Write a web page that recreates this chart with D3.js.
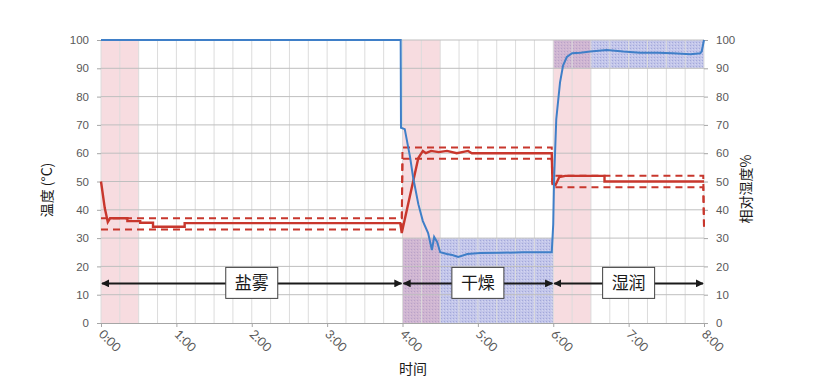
<!DOCTYPE html>
<html lang="zh">
<head>
<meta charset="UTF-8">
<title>温度 / 相对湿度</title>
<style>
  body { margin: 0; background: #fff; }
  svg { display: block; font-family: Lato, "Noto Sans", sans-serif; }
  .grid-h line { stroke: #bfbfbf; }
  .grid-v line { stroke: #dcdcdc; }
  .tick-label { fill: #595959; font-size: 11.5px; }
  .cjk { font-family: "Noto Sans CJK SC", sans-serif; fill: #1a1a1a; }
</style>
<script src="https://d3js.org/d3.v7.min.js"></script>
</head>
<body>
<div class="chart"></div>
<script>
// x tick labels (hours)
const tickHours = [0, 1, 2, 3, 4, 5, 6, 7, 8]
const tickLabels = ['0:00', '1:00', '2:00', '3:00', '4:00', '5:00', '6:00', '7:00', '8:00']
const yTicks = [0, 10, 20, 30, 40, 50, 60, 70, 80, 90, 100]

// phases
const phaseNames = ['盐雾', '干燥', '湿润']
const phaseStart = [0, 4, 6]
const phaseEnd = [4, 6, 8]

// pink transition bands (hours)
const pinkStart = [0, 4, 6]
const pinkEnd = [0.5, 4.5, 6.5]

// blue target RH zones
const blueStart = [4, 6]
const blueEnd = [6, 8]
const blueLow = [0, 90]
const blueHigh = [30, 100]

// relative humidity (%)
const rhTime = [0, 3.976, 3.98, 4.03, 4.10, 4.14, 4.21, 4.27, 4.34, 4.39, 4.42, 4.46, 4.50, 4.59, 4.66, 4.74, 4.86, 5.03, 5.3, 5.6, 5.98,
  6.0, 6.01, 6.04, 6.09, 6.13, 6.18, 6.25, 6.36, 6.49, 6.71, 6.93, 7.15, 7.38, 7.59, 7.82, 7.95, 7.97, 8.0]
const rhValue = [100, 100, 69, 68.5, 58.7, 51.6, 42, 36, 31.8, 25.8, 30.4, 28.6, 25, 24.4, 24, 23.3, 24.4, 24.7, 24.8, 25, 25,
  35, 50, 72, 85, 91, 94, 95.3, 95.5, 95.9, 96.5, 95.9, 95.5, 95.5, 95.3, 95, 95.3, 96, 100]

// temperature (°C)
const tempTime = [0, 0.05, 0.09, 0.12, 0.35, 0.35, 0.52, 0.52, 0.69, 0.69, 1.11, 1.11, 3.97, 3.99, 4.21, 4.27, 4.31, 4.38, 4.48, 4.59, 4.72, 4.87, 4.92, 5.98,
  5.99, 6.03, 6.08, 6.16, 6.68, 6.68, 8.0]
const tempValue = [50, 40.6, 35.7, 37, 37, 36, 36, 35.4, 35.4, 34, 34, 35.3, 35.3, 31.8, 58.3, 60.8, 60, 60.8, 60.4, 60.8, 60, 60.8, 60, 60,
  49.5, 48.8, 51.6, 52, 52, 50, 50]

// tolerance limits (°C)
const tolTime = [0, 3.99, 4.0, 5.98, 5.99, 7.99, 8.0]
const tolUpper = [37, 37, 62, 62, 52, 52, 34]
const tolLower = [33, 33, 58, 58, 48, 48, 34]

const W = 814, H = 390
const svg = d3.select('.chart').append('svg').attr('width', W).attr('height', H)

const x = d3.scaleLinear().domain([0, 8]).range([101, 704])
const y = d3.scaleLinear().domain([0, 100]).range([323, 40])

const defs = svg.append('defs')
const pat = defs.append('pattern').attr('id', 'hatch').attr('patternUnits', 'userSpaceOnUse')
  .attr('width', 3).attr('height', 3)
pat.append('rect').attr('width', 3).attr('height', 3).attr('fill', '#c3c6ea')
pat.append('rect').attr('width', 1).attr('height', 1).attr('fill', '#a3a8da')
pat.append('rect').attr('x', 2).attr('y', 1).attr('width', 1).attr('height', 1).attr('fill', '#d4d6f0')

const mk = defs.append('marker').attr('id', 'arr').attr('viewBox', '0 0 10 10')
  .attr('refX', 9).attr('refY', 5).attr('markerWidth', 4).attr('markerHeight', 4)
  .attr('orient', 'auto-start-reverse')
mk.append('path').attr('d', 'M0,0 L10,5 L0,10 z').attr('fill', '#1a1a1a')

// blue zones
svg.append('g').selectAll('rect').data(blueStart).join('rect')
  .attr('x', (d, i) => x(d)).attr('width', (d, i) => x(blueEnd[i]) - x(d))
  .attr('y', (d, i) => y(blueHigh[i])).attr('height', (d, i) => y(blueLow[i]) - y(blueHigh[i]))
  .attr('fill', 'url(#hatch)')

// pink bands
svg.append('g').selectAll('rect').data(pinkStart).join('rect')
  .attr('x', d => x(d)).attr('width', (d, i) => x(pinkEnd[i]) - x(d))
  .attr('y', y(100)).attr('height', y(0) - y(100))
  .attr('fill', 'rgb(230,150,160)').attr('fill-opacity', 0.33)

// grid
const vGrid = d3.range(0, 8.01, 0.25)
svg.append('g').attr('class', 'grid-v').selectAll('line').data(vGrid).join('line')
  .attr('x1', d => x(d)).attr('x2', d => x(d)).attr('y1', y(100)).attr('y2', y(0))
svg.append('g').attr('class', 'grid-h').selectAll('line').data(yTicks.slice(1)).join('line')
  .attr('x1', x(0)).attr('x2', x(8)).attr('y1', d => y(d)).attr('y2', d => y(d))

// x axis
const xAxis = svg.append('g').attr('transform', `translate(0,${y(0)})`)
  .call(d3.axisBottom(x).tickValues(tickHours).tickFormat('').tickSize(4))
xAxis.select('.domain').attr('stroke', '#a6a6a6')
xAxis.selectAll('.tick line').attr('stroke', '#a6a6a6')
svg.append('g').selectAll('text').data(tickHours).join('text')
  .attr('class', 'tick-label').style('font-size', '12.5px')
  .attr('transform', d => `translate(${x(d) - 3},${y(0) + 12}) rotate(45)`)
  .text((d, i) => tickLabels[i])

// y axes
const yl = svg.append('g').attr('transform', `translate(${x(0)},0)`)
  .call(d3.axisLeft(y).tickValues(yTicks).tickSize(4).tickPadding(8))
const yr = svg.append('g').attr('transform', `translate(${x(8)},0)`)
  .call(d3.axisRight(y).tickValues(yTicks).tickSize(4).tickPadding(8))
;[yl, yr].forEach(a => {
  a.select('.domain').remove()
  a.selectAll('.tick line').attr('stroke', '#a6a6a6')
  a.selectAll('.tick text').attr('class', 'tick-label').attr('fill', '#595959').style('font-size', '11.5px')
})

// tolerance dashed lines
const tolLine = vals => d3.line().x((d, i) => x(tolTime[i])).y((d, i) => y(vals[i]))(tolTime)
;[tolUpper, tolLower].forEach(v => {
  svg.append('path').attr('d', tolLine(v)).attr('fill', 'none')
    .attr('stroke', '#c8372d').attr('stroke-width', 2).attr('stroke-dasharray', '7,5')
})

// temperature
svg.append('path')
  .attr('d', d3.line().x((d, i) => x(tempTime[i])).y((d, i) => y(tempValue[i]))(tempTime))
  .attr('fill', 'none').attr('stroke', '#c8372d').attr('stroke-width', 2.4)

// RH
svg.append('path')
  .attr('d', d3.line().x((d, i) => x(rhTime[i])).y((d, i) => y(rhValue[i]))(rhTime))
  .attr('fill', 'none').attr('stroke', '#3f7fc8').attr('stroke-width', 2)

// phase arrows + boxes
const ay = y(14)
phaseNames.forEach((name, i) => {
  svg.append('line').attr('x1', x(phaseStart[i]) + 1).attr('x2', x(phaseEnd[i]) - 1)
    .attr('y1', ay).attr('y2', ay).attr('stroke', '#1a1a1a').attr('stroke-width', 2)
    .attr('marker-start', 'url(#arr)').attr('marker-end', 'url(#arr)')
  const cx = x((phaseStart[i] + phaseEnd[i]) / 2)
  svg.append('rect').attr('x', cx - 26).attr('y', ay - 16).attr('width', 52).attr('height', 31)
    .attr('fill', '#fff').attr('stroke', '#404040').attr('stroke-width', 1)
  svg.append('text').attr('class', 'cjk').attr('x', cx).attr('y', ay + 6)
    .attr('text-anchor', 'middle').style('font-size', '17px').text(name)
})

// axis titles
svg.append('text').attr('class', 'cjk').attr('transform', 'translate(52,190) rotate(-90)')
  .attr('text-anchor', 'middle').style('font-size', '14px').text('温度 (°C)')
svg.append('text').attr('class', 'cjk').attr('transform', 'translate(751,189) rotate(-90)')
  .attr('text-anchor', 'middle').style('font-size', '14px').text('相对湿度%')
svg.append('text').attr('class', 'cjk').attr('x', 413).attr('y', 374)
  .attr('text-anchor', 'middle').style('font-size', '14px').text('时间')
</script>
</body>
</html>
